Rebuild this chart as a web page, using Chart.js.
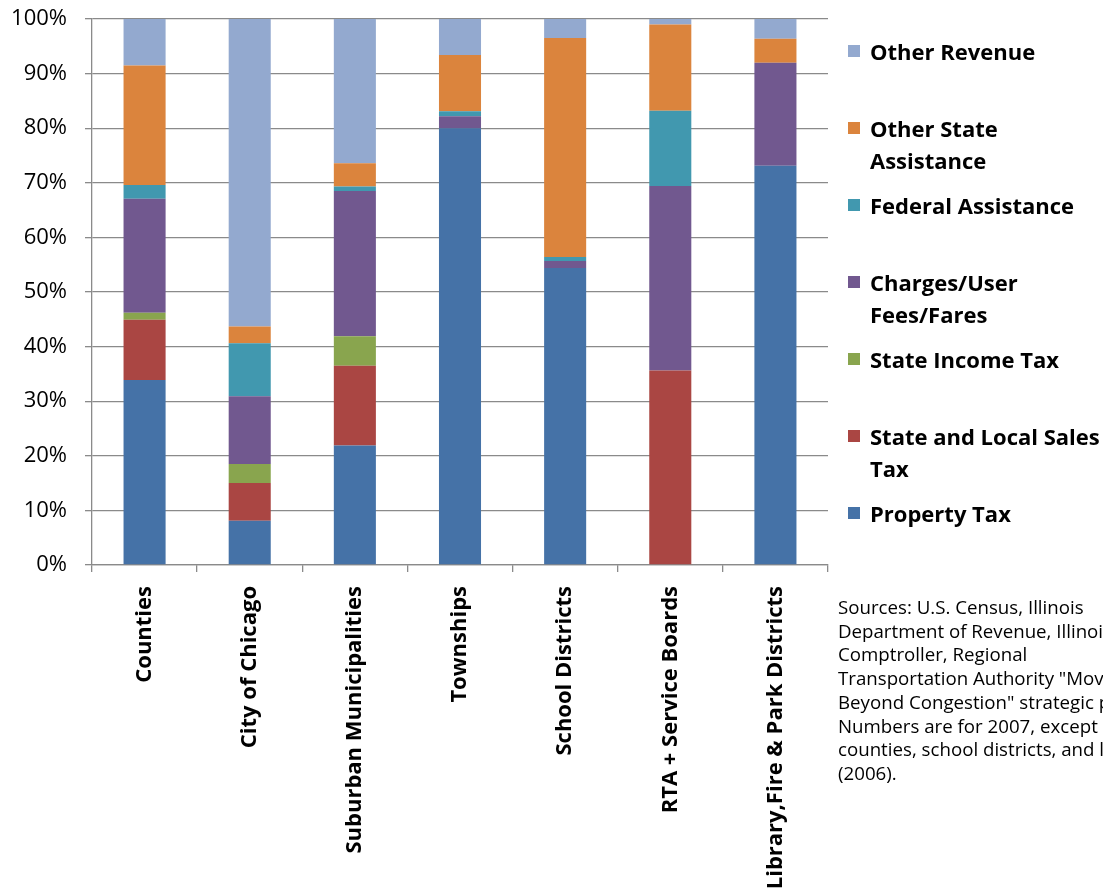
<!DOCTYPE html>
<html>
<head>
<meta charset="utf-8">
<script src="https://cdn.jsdelivr.net/npm/chart.js@4.4.1/dist/chart.umd.min.js"></script>
<style>
  html, body { margin: 0; padding: 0; background: #fff; }
  body { width: 1103px; height: 890px; overflow: hidden; position: relative; font-family: "Open Sans", Lato, sans-serif; }
  #c { position: absolute; left: 0; top: 0; }
  #legend { position: absolute; left: 848px; top: 35px; width: 280px; }
  .item { height: 77px; position: relative; }
  .sw { position: absolute; left: 0; top: 10px; width: 12px; height: 12px; }
  .txt { position: absolute; left: 22px; top: 0; width: 240px; font-weight: 700; font-size: 22px; line-height: 32px; color: #000; }
  #note { position: absolute; left: 838px; top: 595px; font-size: 18.7px; line-height: 23.7px; color: #000; white-space: pre; }
</style>
</head>
<body>
<canvas id="c" width="1103" height="890"></canvas>
<div id="legend"></div>
<div id="note"></div>
<script>
const categories = ["Counties", "City of Chicago", "Suburban Municipalities", "Townships", "School Districts", "RTA + Service Boards", "Library,Fire & Park Districts"];
const propertyTax        = [33.9,  8.1, 21.9, 80.0, 54.4,  0.0, 73.1];
const salesTax           = [11.0,  6.9, 14.6,  0.0,  0.0, 35.6,  0.0];
const stateIncomeTax     = [ 1.3,  3.5,  5.4,  0.0,  0.0,  0.0,  0.0];
const chargesFees        = [20.9, 12.4, 26.6,  2.2,  1.3, 33.8, 18.9];
const federalAssistance  = [ 2.5,  9.7,  0.8,  0.9,  0.7, 13.8,  0.0];
const otherStateAssist   = [21.9,  3.1,  4.3, 10.3, 40.1, 15.8,  4.4];
const otherRevenue       = [ 8.5, 56.3, 26.4,  6.6,  3.5,  1.0,  3.6];
const seriesNames = ["Property Tax", "State and Local Sales Tax", "State Income Tax", "Charges/User Fees/Fares", "Federal Assistance", "Other State Assistance", "Other Revenue"];
const seriesColors = ["#4572A7", "#AA4643", "#89A54E", "#71588F", "#4198AF", "#DB843D", "#93A9CF"];
const yTicks = [0, 10, 20, 30, 40, 50, 60, 70, 80, 90, 100];
const sourceNote = ["Sources: U.S. Census, Illinois", "Department of Revenue, Illinois", "Comptroller, Regional", "Transportation Authority \"Moving", "Beyond Congestion\" strategic plan.", "Numbers are for 2007, except", "counties, school districts, and libraries", "(2006)."];

const seriesValues = [propertyTax, salesTax, stateIncomeTax, chargesFees, federalAssistance, otherStateAssist, otherRevenue];
const gridColor = "#8a8a8a";

const datasets = seriesNames.map((name, i) => ({
  label: name,
  data: seriesValues[i],
  backgroundColor: seriesColors[i],
  borderWidth: 0,
  barPercentage: 0.4,
  categoryPercentage: 1.0
}));

new Chart(document.getElementById("c"), {
  type: "bar",
  data: { labels: categories, datasets },
  options: {
    responsive: false,
    animation: false,
    layout: { padding: { top: 19, right: 275, left: 0, bottom: 0 } },
    plugins: { legend: { display: false }, tooltip: { enabled: false } },
    scales: {
      x: {
        stacked: true,
        afterFit: s => { s.height = 325; },
        grid: { display: true, drawOnChartArea: false, drawTicks: true, tickLength: 7, offset: true, color: gridColor, lineWidth: 1.3 },
        border: { display: true, color: gridColor, width: 1.3 },
        ticks: { minRotation: 90, maxRotation: 90, padding: 14, color: "#000", font: { family: "Open Sans", weight: "bold", size: 22 } }
      },
      y: {
        stacked: true,
        min: 0, max: 100,
        afterFit: s => { s.width = 92; s.paddingTop = 10; s.paddingBottom = 10; },
        afterBuildTicks: s => { s.ticks = yTicks.map(v => ({ value: v })); },
        grid: { color: gridColor, lineWidth: 1.3, tickLength: 7 },
        border: { display: true, color: gridColor, width: 1.3 },
        ticks: { padding: 18, color: "#000", font: { family: "Open Sans", size: 22 }, callback: v => v + "%" }
      }
    }
  }
});

const legend = document.getElementById("legend");
for (let i = seriesNames.length - 1; i >= 0; i--) {
  const item = document.createElement("div");
  item.className = "item";
  const sw = document.createElement("div");
  sw.className = "sw";
  sw.style.background = seriesColors[i];
  const t = document.createElement("div");
  t.className = "txt";
  t.textContent = seriesNames[i];
  item.appendChild(sw); item.appendChild(t);
  legend.appendChild(item);
}
document.getElementById("note").textContent = sourceNote.join("\n");
</script>
</body>
</html>
